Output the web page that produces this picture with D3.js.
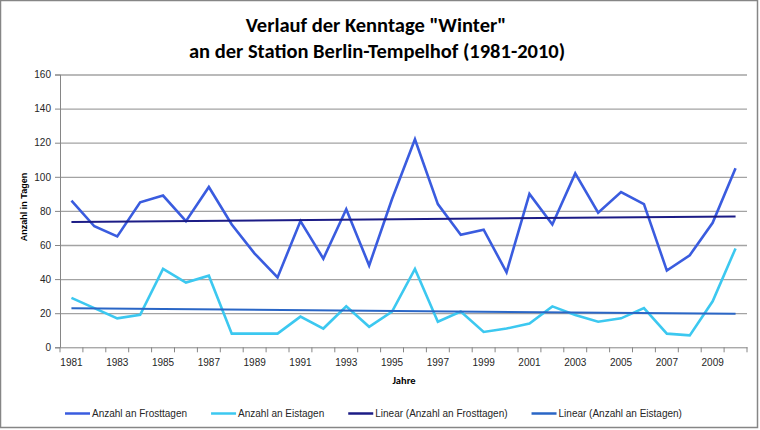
<!DOCTYPE html>
<html>
<head>
<meta charset="utf-8">
<script src="https://cdn.jsdelivr.net/npm/d3@7"></script>
<style>
  html, body { margin: 0; padding: 0; background: #fff; }
</style>
</head>
<body>
<div class="chart"></div>
<script>
// Kenntage "Winter" - Berlin-Tempelhof 1981-2010

const years = [1981, 1982, 1983, 1984, 1985, 1986, 1987, 1988, 1989, 1990,
               1991, 1992, 1993, 1994, 1995, 1996, 1997, 1998, 1999, 2000,
               2001, 2002, 2003, 2004, 2005, 2006, 2007, 2008, 2009, 2010];

const frostDays = [86, 71, 65, 85, 89, 74, 94, 72, 55, 41,
                   74, 52, 81, 48, 87, 122, 84, 66, 69, 44,
                   90, 72, 102, 79, 91, 84, 45, 54, 73, 105];

const iceDays = [29, 23, 17, 19, 46, 38, 42, 8, 8, 8,
                 18, 11, 24, 12, 21, 46, 15, 21, 9, 11,
                 14, 24, 19, 15, 17, 23, 8, 7, 27, 58];

const yTicks = [0, 20, 40, 60, 80, 100, 120, 140, 160];
const xTickLabels = [1981, 1983, 1985, 1987, 1989, 1991, 1993, 1995, 1997, 1999,
                     2001, 2003, 2005, 2007, 2009];

const seriesNames = ['Anzahl an Frosttagen', 'Anzahl an Eistagen',
                     'Linear (Anzahl an Frosttagen)', 'Linear (Anzahl an Eistagen)'];

// Excel style linear trend (least squares over category index)
function linearFit(values) {
    const n = values.length;
    const xs = values.map((v, i) => i + 1);
    const mx = d3.mean(xs), my = d3.mean(values);
    const sxy = d3.sum(xs, (x, i) => (x - mx) * (values[i] - my));
    const sxx = d3.sum(xs, x => (x - mx) * (x - mx));
    const slope = sxy / sxx;
    const icpt = my - slope * mx;
    return [icpt + slope * 1, icpt + slope * n];
}

const width = 760;
const height = 430;
const plot = { left: 60, right: 747, top: 74.5, bottom: 347.3 };
const titleFont = 'Carlito, Calibri, "Open Sans", sans-serif';
const bodyFont = '"Liberation Sans", Arial, sans-serif';

const colors = {
    frost: '#3A5CDF',
    ice: '#3CC8F0',
    frostTrend: '#1C1C86',
    iceTrend: '#2A66C6',
    grid: '#A3A3A3',
    axis: '#868686'
};

const svg = d3.select('.chart')
    .append('svg')
    .attr('width', width)
    .attr('height', height)
    .attr('font-family', bodyFont);

// Outer frame
svg.append('rect')
    .attr('x', 0.5)
    .attr('y', 0.5)
    .attr('width', width - 3)
    .attr('height', height - 3)
    .attr('fill', '#fff')
    .attr('stroke', colors.axis)
    .attr('stroke-width', 1.5);

// Scales
const xScale = d3.scaleBand()
    .domain(years)
    .range([plot.left, plot.right])
    .padding(0);

const xCenter = d => xScale(d) + xScale.bandwidth() / 2;

const yScale = d3.scaleLinear()
    .domain([0, 160])
    .range([plot.bottom, plot.top]);

// Grid lines
svg.append('g')
    .attr('transform', `translate(${plot.left},0)`)
    .call(d3.axisLeft(yScale)
        .tickValues(yTicks.filter(t => t > 0))
        .tickSize(-(plot.right - plot.left))
        .tickFormat(''))
    .call(g => g.select('.domain').remove())
    .selectAll('line')
    .attr('stroke', colors.grid)
    .attr('stroke-width', 1.3);

// Y axis
const yAxis = svg.append('g')
    .attr('transform', `translate(${plot.left},0)`)
    .call(d3.axisLeft(yScale)
        .tickValues(yTicks)
        .tickSize(5)
        .tickPadding(4));

// X axis (ticks on band boundaries, labels every other year)
const xAxis = svg.append('g')
    .attr('transform', `translate(0,${plot.bottom})`)
    .call(d3.axisBottom(xScale)
        .tickValues(xTickLabels)
        .tickSize(0));

xAxis.selectAll('.tick').attr('transform', d => `translate(${xCenter(d)},0)`);
xAxis.selectAll('.tick text').attr('y', 18.7).attr('dy', 0);

svg.append('g')
    .selectAll('line')
    .data(years.concat(['end']))
    .enter()
    .append('line')
    .attr('x1', d => d === 'end' ? plot.right : xScale(d))
    .attr('x2', d => d === 'end' ? plot.right : xScale(d))
    .attr('y1', plot.bottom)
    .attr('y2', plot.bottom + 5)
    .attr('stroke', colors.axis);

[yAxis, xAxis].forEach(ax => {
    ax.attr('font-family', bodyFont).attr('font-size', 10);
    ax.selectAll('.domain, .tick line')
        .attr('stroke', colors.axis)
        .attr('stroke-width', 1);
    ax.selectAll('text')
        .attr('fill', '#262626');
});

// Data lines
const line = d3.line()
    .x((d, i) => xCenter(years[i]))
    .y(d => yScale(d));

const trendLine = d3.line()
    .x((d, i) => xCenter(i === 0 ? years[0] : years[years.length - 1]))
    .y(d => yScale(d));

const series = [
    { values: iceDays, color: colors.ice, gen: line, w: 2.6 },
    { values: frostDays, color: colors.frost, gen: line, w: 2.6 },
    { values: linearFit(frostDays), color: colors.frostTrend, gen: trendLine, w: 2 },
    { values: linearFit(iceDays), color: colors.iceTrend, gen: trendLine, w: 2 }
];

series.forEach(s => {
    svg.append('path')
        .datum(s.values)
        .attr('fill', 'none')
        .attr('stroke', s.color)
        .attr('stroke-width', s.w)
        .attr('stroke-linejoin', 'miter')
        .attr('d', s.gen);
});

// Title
const title = svg.append('text')
    .attr('text-anchor', 'middle')
    .attr('font-size', '20.5px')
    .attr('font-weight', 'bold')
    .attr('font-family', titleFont)
    .attr('fill', '#000');

title.append('tspan')
    .attr('x', 376)
    .attr('y', 32)
    .text('Verlauf der Kenntage "Winter"');

title.append('tspan')
    .attr('x', 377)
    .attr('y', 58)
    .text('an der Station Berlin-Tempelhof (1981-2010)');

// Axis titles
svg.append('text')
    .attr('transform', `translate(27,207) rotate(-90)`)
    .attr('text-anchor', 'middle')
    .attr('font-size', '9px')
    .attr('font-weight', 'bold')
    .text('Anzahl in Tagen');

svg.append('text')
    .attr('x', 404)
    .attr('y', 384)
    .attr('text-anchor', 'middle')
    .attr('font-size', '10.5px')
    .attr('font-weight', 'bold')
    .attr('font-family', titleFont)
    .text('Jahre');

// Legend: items laid out one after the other with an even gap
const legendColors = [colors.frost, colors.ice, colors.frostTrend, colors.iceTrend];

const legend = svg.append('g')
    .attr('transform', 'translate(0,413.5)');

let legendCursor = 65;
seriesNames.forEach((name, i) => {
    const row = legend.append('g')
        .attr('transform', `translate(${legendCursor},0)`);

    row.append('line')
        .attr('x1', 0)
        .attr('x2', 25)
        .attr('stroke', legendColors[i])
        .attr('stroke-width', 2.5);

    const label = row.append('text')
        .attr('x', 27)
        .attr('y', 3.5)
        .attr('font-size', '10px')
        .attr('fill', '#262626')
        .text(name);

    legendCursor += 27 + label.node().getComputedTextLength() + 24;
});
</script>
</body>
</html>
